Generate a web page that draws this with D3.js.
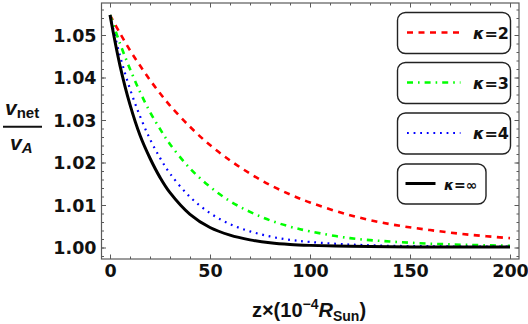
<!DOCTYPE html>
<html>
<head>
<meta charset="utf-8">
<script src="https://cdn.jsdelivr.net/npm/d3@7"></script>
<style>
  body { margin: 0; background: #fff; }
  svg { display: block; }
  text { font-family: "DejaVu Sans", sans-serif; font-weight: bold; }
</style>
</head>
<body>
<svg id="main-svg" width="528" height="324"></svg>
<script>
(function() {

    // sample positions, z in units of 1e-4 R_Sun
    var zs = [0, 5, 10, 15, 20, 25, 30, 40, 50, 60, 70, 80, 90, 100, 120, 140, 160, 180, 200];

    // v_net / v_A
    var kappa2   = [1.0547, 1.0504, 1.0464, 1.0428, 1.0394, 1.0363, 1.0334, 1.0284, 1.0241, 1.0205, 1.0174, 1.0147, 1.0125, 1.0106, 1.0076, 1.0055, 1.0041, 1.0030, 1.0022];
    var kappa3   = [1.0547, 1.0480, 1.0420, 1.0366, 1.0319, 1.0279, 1.0243, 1.0186, 1.0143, 1.0109, 1.0084, 1.0064, 1.0049, 1.0038, 1.0022, 1.0014, 1.0009, 1.0006, 1.0004];
    var kappa4   = [1.0547, 1.0451, 1.0373, 1.0309, 1.0255, 1.0211, 1.0174, 1.0119, 1.0081, 1.0055, 1.0038, 1.0026, 1.0018, 1.0013, 1.0007, 1.0004, 1.0003, 1.0002, 1.0002];
    var kappaInf = [1.0547, 1.0428, 1.0336, 1.0264, 1.0210, 1.0165, 1.0129, 1.0078, 1.0047, 1.0029, 1.0018, 1.0011, 1.0007, 1.0005, 1.0003, 1.0002, 1.0001, 1.0001, 1.0001];

    var xTicks = [0, 50, 100, 150, 200];
    var yTicks = [1.00, 1.01, 1.02, 1.03, 1.04, 1.05];
    var legendLabels = ["\u03ba=2", "\u03ba=3", "\u03ba=4", "\u03ba=\u221e"];

    var series = [
        {values: kappa2,   color: "#ff0000", width: 2.6, dash: "6,5.5"},
        {values: kappa3,   color: "#00ff00", width: 2.6, dash: "6,5,1.6,5"},
        {values: kappa4,   color: "#0000ff", width: 2.2, dash: "1.8,4.8"},
        {values: kappaInf, color: "#000000", width: 3,   dash: null}
    ];

    var svg = d3.select("#main-svg");
    var frame = {left: 101.5, right: 519, top: 3, bottom: 259};
    var frameColor = "#5a5a5a";

    var x = d3.scaleLinear().domain([0, 200]).range([110, 510]);
    var y = d3.scaleLinear().domain([1.00, 1.05]).range([247.5, 35]);

    var minorX = d3.range(-10, 211, 10);
    var minorY = d3.range(0.996, 1.0561, 0.002);

    // frame
    svg.append("rect")
    .attr("x", frame.left)
    .attr("y", frame.top)
    .attr("width", frame.right - frame.left)
    .attr("height", frame.bottom - frame.top)
    .attr("fill", "none")
    .attr("stroke", frameColor)
    .attr("stroke-width", 1.2);

    svg.append("clipPath").attr("id", "plot-clip")
    .append("rect")
    .attr("x", frame.left)
    .attr("y", frame.top)
    .attr("width", frame.right - frame.left)
    .attr("height", frame.bottom - frame.top);

    var styleAxis = function(g) {
        g.select(".domain").remove();
        g.selectAll("line").attr("stroke", frameColor).attr("stroke-width", 1);
    };

    // ticks on all four sides
    var xIn = function(g, side, size) {
        var yPos = side === "bottom" ? frame.bottom : frame.top;
        var axis = side === "bottom" ? d3.axisTop(x) : d3.axisBottom(x);
        g.attr("transform", "translate(0," + yPos + ")")
        .call(axis.tickValues(size === "minor" ? minorX.filter(function(v) { return v >= -4 && v <= 204; }) : xTicks)
            .tickSize(size === "minor" ? 2.5 : 4.5).tickFormat(""))
        .call(styleAxis);
        g.selectAll("text").remove();
    };
    var yIn = function(g, side, size) {
        var xPos = side === "left" ? frame.left : frame.right;
        var axis = side === "left" ? d3.axisRight(y) : d3.axisLeft(y);
        var minors = minorY.filter(function(v) { return y(v) > frame.top + 1 && y(v) < frame.bottom - 1; });
        g.attr("transform", "translate(" + xPos + ",0)")
        .call(axis.tickValues(size === "minor" ? minors : yTicks)
            .tickSize(size === "minor" ? 2.5 : 4.5).tickFormat(""))
        .call(styleAxis);
        g.selectAll("text").remove();
    };

    ["bottom", "top"].forEach(function(side) {
        svg.append("g").call(xIn, side, "minor");
        svg.append("g").call(xIn, side, "major");
    });
    ["left", "right"].forEach(function(side) {
        svg.append("g").call(yIn, side, "minor");
        svg.append("g").call(yIn, side, "major");
    });

    // tick labels
    svg.append("g")
    .attr("transform", "translate(0," + frame.bottom + ")")
    .call(d3.axisBottom(x).tickValues(xTicks).tickSize(0).tickPadding(5).tickFormat(d3.format("d")))
    .call(function(g) {
        g.select(".domain").remove();
        g.selectAll("text")
        .attr("fill", "#111")
        .style("font-size", "17.5px")
        .style("font-family", "DejaVu Sans")
        .style("font-weight", "bold")
        .attr("dy", "0.72em");
    });

    svg.append("g")
    .attr("transform", "translate(" + frame.left + ",0)")
    .call(d3.axisLeft(y).tickValues(yTicks).tickSize(0).tickPadding(5).tickFormat(d3.format(".2f")))
    .call(function(g) {
        g.select(".domain").remove();
        g.selectAll("text")
        .attr("fill", "#111")
        .style("font-size", "17.5px")
        .style("font-family", "DejaVu Sans")
        .style("font-weight", "bold")
        .attr("dy", "0.36em");
    });

    // curves
    var line = d3.line()
    .x(function(d, i) { return x(zs[i]); })
    .y(function(d) { return y(d); })
    .curve(d3.curveCatmullRom.alpha(0.5));

    var plot = svg.append("g").attr("clip-path", "url(#plot-clip)");
    series.forEach(function(s) {
        plot.append("path")
        .attr("d", line(s.values))
        .attr("fill", "none")
        .attr("stroke", s.color)
        .attr("stroke-width", s.width)
        .attr("stroke-dasharray", s.dash);
    });

    // legend
    var boxes = [
        {x: 397.5, y: 12.5, w: 113, h: 41},
        {x: 397.5, y: 62.5, w: 113, h: 41},
        {x: 397.5, y: 113, w: 113, h: 41},
        {x: 397.5, y: 164, w: 88.5, h: 40}
    ];
    series.forEach(function(s, i) {
        var b = boxes[i];
        var g = svg.append("g").attr("transform", "translate(" + b.x + "," + b.y + ")");
        g.append("rect")
        .attr("width", b.w)
        .attr("height", b.h)
        .attr("rx", 8)
        .attr("fill", "#fff")
        .attr("stroke", "#222")
        .attr("stroke-width", 1.4);
        var last = i === 3;
        g.append("line")
        .attr("x1", last ? 8 : 9.5)
        .attr("x2", last ? 38 : 63)
        .attr("y1", b.h / 2 - 0.5)
        .attr("y2", b.h / 2 - 0.5)
        .attr("stroke", s.color)
        .attr("stroke-width", s.width)
        .attr("stroke-dasharray", s.dash);
        var t = g.append("text")
        .attr("x", last ? 46.5 : 75.5)
        .attr("y", b.h / 2 + 5.5)
        .style("font-size", last ? "14px" : "16px")
        .attr("fill", "#111");
        var parts = legendLabels[i].split("=");
        t.append("tspan").style("font-style", "italic").text(parts[0]);
        t.append("tspan").text("=" + parts[1]);
    });

    // y title: v_net over v_A
    var yt = svg.append("g");
    yt.append("text")
    .attr("x", 5)
    .attr("y", 115)
    .style("font-size", "21px")
    .attr("fill", "#111")
    .call(function(t) {
        t.append("tspan").style("font-style", "italic").style("font-family", "Liberation Sans").text("v");
        t.append("tspan").attr("dy", 3).style("font-size", "15px").style("font-family", "Liberation Sans").text("net");
    });
    yt.append("line")
    .attr("x1", 3).attr("x2", 42)
    .attr("y1", 126.7).attr("y2", 126.7)
    .attr("stroke", "#111")
    .attr("stroke-width", 2);
    yt.append("text")
    .attr("x", 10)
    .attr("y", 150)
    .style("font-size", "21px")
    .attr("fill", "#111")
    .call(function(t) {
        t.append("tspan").style("font-style", "italic").style("font-family", "Liberation Sans").text("v");
        t.append("tspan").attr("dy", 3).style("font-size", "15px").style("font-style", "italic").style("font-family", "Liberation Sans").text("A");
    });

    // x title
    svg.append("text")
    .attr("x", 309)
    .attr("y", 317)
    .attr("text-anchor", "middle")
    .style("font-size", "20px")
    .style("font-family", "Liberation Sans")
    .attr("fill", "#111")
    .call(function(t) {
        t.append("tspan").text("z\u00d7(10");
        t.append("tspan").attr("dy", -8).style("font-size", "14px").text("\u22124");
        t.append("tspan").attr("dy", 8).style("font-style", "italic").text("R");
        t.append("tspan").attr("dy", 4).style("font-size", "14px").text("Sun");
        t.append("tspan").attr("dy", -4).text(")");
    });
})();
</script>
</body>
</html>
